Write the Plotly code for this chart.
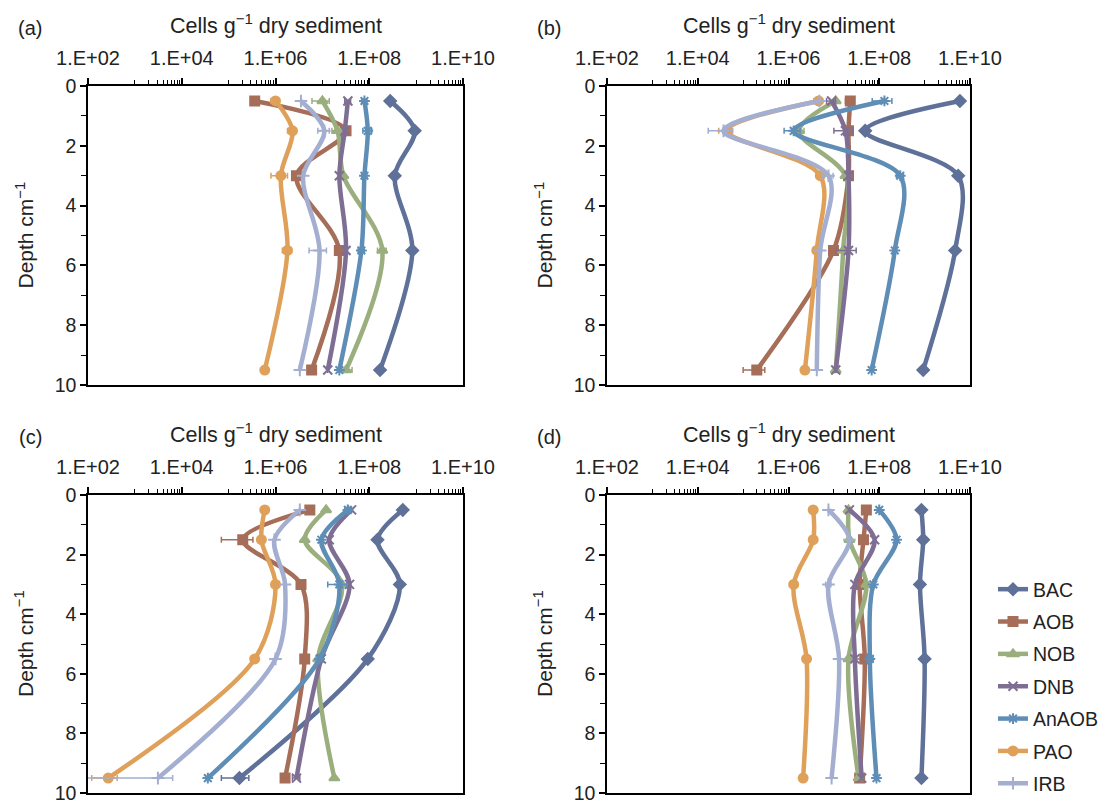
import plotly.graph_objects as go

# Sampling depths (cm) and microbial groups
depth = [0.5, 1.5, 3, 5.5, 9.5]
groups = ["BAC", "AOB", "NOB", "DNB", "AnAOB", "PAO", "IRB"]
panel_labels = ["(a)", "(b)", "(c)", "(d)"]
x_tick_vals = [1e2, 1e4, 1e6, 1e8, 1e10]
x_tick_text = ["1.E+02", "1.E+04", "1.E+06", "1.E+08", "1.E+10"]
y_tick_vals = [0, 2, 4, 6, 8, 10]

# Cell abundances (cells per g dry sediment), one list per group, ordered by depth
cells_a = {
    "BAC":   [2.8e8, 9.3e8, 3.5e8, 8.3e8, 1.7e8],
    "AOB":   [3.6e5, 3.2e7, 2.8e6, 2.3e7, 5.9e6],
    "NOB":   [1.0e7, 2.1e7, 2.8e7, 1.9e8, 3.2e7],
    "DNB":   [3.5e7, 3.0e7, 2.3e7, 3.2e7, 1.3e7],
    "AnAOB": [7.9e7, 9.3e7, 7.9e7, 6.8e7, 2.3e7],
    "PAO":   [1.0e6, 2.3e6, 1.3e6, 1.8e6, 5.9e5],
    "IRB":   [3.5e6, 1.1e7, 3.9e6, 8.7e6, 3.3e6],
}
cells_b = {
    "BAC":   [6.0e9, 4.9e7, 5.5e9, 4.7e9, 9.3e8],
    "AOB":   [2.3e7, 2.1e7, 2.1e7, 9.8e6, 2.0e5],
    "NOB":   [1.1e7, 1.7e6, 1.8e7, 1.6e7, 1.1e7],
    "DNB":   [8.9e6, 1.8e7, 2.1e7, 2.1e7, 1.1e7],
    "AnAOB": [1.3e8, 1.3e6, 2.9e8, 2.2e8, 6.8e7],
    "PAO":   [4.6e6, 4.4e4, 5.0e6, 4.2e6, 2.3e6],
    "IRB":   [4.8e6, 3.7e4, 7.6e6, 5.0e6, 4.2e6],
}
cells_c = {
    "BAC":   [5.2e8, 1.5e8, 4.5e8, 9.3e7, 1.7e5],
    "AOB":   [5.4e6, 2.0e5, 3.5e6, 4.2e6, 1.6e6],
    "NOB":   [1.2e7, 4.2e6, 2.6e7, 8.1e6, 1.8e7],
    "DNB":   [4.2e7, 1.4e7, 3.8e7, 9.5e6, 2.8e6],
    "AnAOB": [3.5e7, 9.5e6, 2.3e7, 8.7e6, 3.6e4],
    "PAO":   [5.9e5, 5.0e5, 1.0e6, 3.6e5, 2.7e2],
    "IRB":   [3.3e6, 9.5e5, 1.6e6, 1.0e6, 3.1e3],
}
cells_d = {
    "BAC":   [8.5e8, 9.3e8, 7.9e8, 1.0e9, 8.5e8],
    "AOB":   [5.2e7, 4.5e7, 3.7e7, 4.8e7, 3.7e7],
    "NOB":   [2.1e7, 2.2e7, 5.2e7, 2.1e7, 3.5e7],
    "DNB":   [2.2e7, 7.9e7, 2.9e7, 2.9e7, 4.1e7],
    "AnAOB": [1.0e8, 2.4e8, 7.4e7, 6.2e7, 8.7e7],
    "PAO":   [3.5e6, 3.5e6, 1.3e6, 2.5e6, 2.1e6],
    "IRB":   [7.6e6, 2.2e7, 7.6e6, 1.3e7, 8.9e6],
}

# Standard errors (same units); 0 means no bar drawn
err_a = {
    "BAC":   [0, 1.5e8, 0, 1.0e8, 0],
    "AOB":   [0, 0, 0, 0, 0],
    "NOB":   [4e6, 5e6, 0, 4e7, 1.1e7],
    "DNB":   [5e6, 0, 0, 0, 0],
    "AnAOB": [1e7, 2e7, 1e7, 1e7, 0],
    "PAO":   [2e5, 5e5, 5e5, 4e5, 0],
    "IRB":   [0, 3e6, 0, 3.5e6, 0],
}
err_b = {
    "BAC":   [0, 0, 0, 0, 0],
    "AOB":   [5e6, 0, 0, 2e6, 1e5],
    "NOB":   [0, 5e5, 0, 0, 0],
    "DNB":   [2e6, 8e6, 0, 1e7, 0],
    "AnAOB": [6e7, 5e5, 5e7, 0, 0],
    "PAO":   [1e6, 1.5e4, 0, 0, 0],
    "IRB":   [0, 2e4, 2e6, 0, 0],
}
err_c = {
    "BAC":   [0, 0, 0, 0, 1e5],
    "AOB":   [0, 1.3e5, 0, 0, 0],
    "NOB":   [0, 0, 0, 0, 0],
    "DNB":   [0, 0, 0, 0, 5e5],
    "AnAOB": [5e6, 0, 1e7, 0, 0],
    "PAO":   [0, 0, 0, 0, 1.5e2],
    "IRB":   [0, 0, 0, 0, 3.3e3],
}
err_d = {
    "BAC":   [0, 0, 0, 0, 0],
    "AOB":   [0, 0, 0, 2.5e7, 0],
    "NOB":   [0, 0, 0, 0, 0],
    "DNB":   [0, 0, 0, 0, 0],
    "AnAOB": [0, 0, 0, 0, 0],
    "PAO":   [0, 0, 0, 0, 0],
    "IRB":   [0, 0, 1e6, 0, 0],
}

# Visual style per group
colors = {
    "BAC": "#5f7199",
    "AOB": "#a66e58",
    "NOB": "#9aae7e",
    "DNB": "#7f6e93",
    "AnAOB": "#5e8db6",
    "PAO": "#dfa05a",
    "IRB": "#a3aed0",
}
symbols = {
    "BAC": "diamond",
    "AOB": "square",
    "NOB": "triangle-up",
    "DNB": "x-thin",
    "AnAOB": "asterisk",
    "PAO": "circle",
    "IRB": "cross-thin",
}

FONT = "Liberation Sans, Arial, sans-serif"
TXT = "#222"
W, H = 1101, 805

# Plot-area boxes in pixels: (left, right, top, bottom)
boxes = [
    (88, 463, 86, 385),
    (607, 970, 86, 385),
    (88, 463, 495, 793),
    (607, 970, 495, 793),
]

panels = [(cells_a, err_a), (cells_b, err_b), (cells_c, err_c), (cells_d, err_d)]

# Minor ticks on the log axis: 1..9 x 10^odd within each two-decade step
minor_x = [k * 10 ** e for e in (3, 5, 7, 9) for k in range(1, 10)]

fig = go.Figure()

for i, (cells, errs) in enumerate(panels):
    xref = "x" if i == 0 else f"x{i + 1}"
    yref = "y" if i == 0 else f"y{i + 1}"
    for g in groups:
        e = [v if v > 0 else None for v in errs[g]]
        fig.add_trace(go.Scatter(
            x=cells[g], y=depth,
            xaxis=xref, yaxis=yref,
            mode="lines+markers",
            name=g,
            legendgroup=g,
            showlegend=(i == 0),
            line=dict(color=colors[g], width=4.5, shape="spline", smoothing=0.9),
            marker=dict(symbol=symbols[g], size=9, color=colors[g],
                        line=dict(color=colors[g], width=2)),
            error_x=dict(type="data", array=e, symmetric=True, visible=True,
                         color=colors[g], thickness=1.5, width=3),
            cliponaxis=False,
        ))

layout = dict(
    width=W, height=H,
    margin=dict(l=0, r=0, t=0, b=0, autoexpand=False),
    paper_bgcolor="white",
    plot_bgcolor="white",
    font=dict(family=FONT, size=19, color=TXT),
    showlegend=True,
    legend=dict(
        x=993 / W, y=1 - 570 / H, xanchor="left", yanchor="top",
        font=dict(family=FONT, size=19.5, color=TXT),
        tracegroupgap=4,
        itemwidth=30,
        bgcolor="rgba(0,0,0,0)",
    ),
    annotations=[],
)

for i, (l, r, t, b) in enumerate(boxes):
    sfx = "" if i == 0 else str(i + 1)
    xa = "xaxis" + sfx
    ya = "yaxis" + sfx
    layout[xa] = dict(
        type="log", range=[2, 10], side="top",
        domain=[l / W, r / W],
        anchor="y" + sfx,
        tickvals=x_tick_vals, ticktext=x_tick_text,
        ticks="outside", ticklen=6, tickwidth=1.5, tickcolor="black",
        ticklabelstandoff=5,
        ticklabeloverflow="allow",
        minor=dict(tickvals=minor_x, ticks="outside", ticklen=4,
                   tickwidth=1, tickcolor="black", showgrid=False),
        showline=True, linecolor="black", linewidth=1.5, mirror=True,
        showgrid=False, zeroline=False,
        tickfont=dict(family=FONT, size=20, color=TXT),
        fixedrange=True,
    )
    layout[ya] = dict(
        range=[10, 0],
        domain=[1 - b / H, 1 - t / H],
        anchor="x" + sfx,
        tickvals=y_tick_vals,
        ticks="outside", ticklen=6, tickwidth=1.5, tickcolor="black",
        ticklabeloverflow="allow",
        minor=dict(tickvals=[1, 3, 5, 7, 9], ticks="outside", ticklen=5,
                   tickwidth=1, tickcolor="black", showgrid=False),
        showline=True, linecolor="black", linewidth=1.5, mirror=True,
        showgrid=False, zeroline=False,
        tickfont=dict(family=FONT, size=19.5, color=TXT),
        fixedrange=True,
    )
    cx = (l + r) / 2
    # x-axis title above the tick labels
    layout["annotations"].append(dict(
        text="Cells g<sup>\u22121</sup> dry sediment",
        x=cx / W, y=1 - (t - 62) / H, xref="paper", yref="paper",
        xanchor="center", yanchor="middle", showarrow=False,
        font=dict(family=FONT, size=21.5, color=TXT),
    ))
    # y-axis title
    layout["annotations"].append(dict(
        text="Depth cm<sup>\u22121</sup>",
        x=(l - 64) / W, y=1 - ((t + b) / 2) / H, xref="paper", yref="paper",
        xanchor="center", yanchor="middle", showarrow=False, textangle=-90,
        font=dict(family=FONT, size=21, color=TXT),
    ))
    # panel label
    layout["annotations"].append(dict(
        text=panel_labels[i],
        x=(l - 58) / W, y=1 - (t - 58) / H, xref="paper", yref="paper",
        xanchor="center", yanchor="middle", showarrow=False,
        font=dict(family=FONT, size=20, color=TXT),
    ))

fig.update_layout(**layout)
fig.write_html("out.html")
